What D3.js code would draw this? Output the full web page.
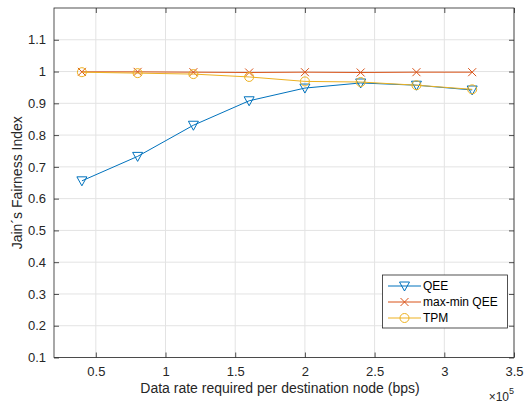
<!DOCTYPE html>
<html><head><meta charset="utf-8">
<script src="https://cdn.jsdelivr.net/npm/d3@7"></script>
<style>body{margin:0;background:#fff}svg{display:block}text{font-family:"Liberation Sans",Arial,Helvetica,sans-serif}</style>
</head><body>
<svg id="c" width="531" height="405"></svg>
<script>
const xValues = [0.4e5, 0.8e5, 1.2e5, 1.6e5, 2.0e5, 2.4e5, 2.8e5, 3.2e5];
const qee = [0.656, 0.733, 0.831, 0.908, 0.948, 0.964, 0.957, 0.942];
const maxMinQee = [0.999, 0.999, 0.998, 0.997, 0.998, 0.997, 0.998, 0.998];
const tpm = [0.998, 0.995, 0.992, 0.983, 0.969, 0.967, 0.957, 0.944];
const xTicks = [0.5e5, 1e5, 1.5e5, 2e5, 2.5e5, 3e5, 3.5e5];
const xTickLabels = ["0.5","1","1.5","2","2.5","3","3.5"];
const yTicks = [0.1,0.2,0.3,0.4,0.5,0.6,0.7,0.8,0.9,1,1.1];
const yTickLabels = ["0.1","0.2","0.3","0.4","0.5","0.6","0.7","0.8","0.9","1","1.1"];
const seriesNames = ["QEE","max-min QEE","TPM"];
const colors = ["#0072BD","#D95319","#EDB120"];

const svg = d3.select("#c");
const L=54, R=514, T=8, B=357.5;
const x = d3.scaleLinear().domain([0.2e5,3.5e5]).range([L,R]);
const y = d3.scaleLinear().domain([0.1,1.2]).range([B,T]);

// grid
const g = svg.append("g");
g.selectAll(".gx").data(xTicks).join("line")
 .attr("x1",d=>x(d)).attr("x2",d=>x(d)).attr("y1",T).attr("y2",B)
 .attr("stroke","#e3e3e3").attr("stroke-width",1);
g.selectAll(".gy").data(yTicks).join("line")
 .attr("y1",d=>y(d)).attr("y2",d=>y(d)).attr("x1",L).attr("x2",R)
 .attr("stroke","#e3e3e3").attr("stroke-width",1);

// axes
const axColor="#262626";
const xAxis = d3.axisBottom(x).tickValues(xTicks).tickFormat((d,i)=>xTickLabels[i]).tickSizeInner(-5).tickSizeOuter(0).tickPadding(9);
const yAxis = d3.axisLeft(y).tickValues(yTicks).tickFormat((d,i)=>yTickLabels[i]).tickSizeInner(-5).tickSizeOuter(0).tickPadding(8);
const xa = svg.append("g").attr("transform",`translate(0,${B})`).call(xAxis);
const ya = svg.append("g").attr("transform",`translate(${L},0)`).call(yAxis);
const xt = svg.append("g").attr("transform",`translate(0,${T})`).call(d3.axisTop(x).tickValues(xTicks).tickFormat("").tickSizeInner(-5).tickSizeOuter(0));
const yr = svg.append("g").attr("transform",`translate(${R},0)`).call(d3.axisRight(y).tickValues(yTicks).tickFormat("").tickSizeInner(-5).tickSizeOuter(0));
[xa,ya,xt,yr].forEach(a=>{
  a.select(".domain").remove();
  a.selectAll("line").attr("stroke",axColor).attr("stroke-width",0.8);
  a.selectAll("text").attr("fill","#262626").attr("font-size","13px").style("font-family",'"Liberation Sans",Arial,sans-serif');
});
svg.append("rect").attr("x",L).attr("y",T).attr("width",R-L).attr("height",B-T)
 .attr("fill","none").attr("stroke",axColor).attr("stroke-width",0.8);

// labels
svg.append("text").attr("x",280).attr("y",393).attr("text-anchor","middle")
 .attr("font-size","14px").attr("fill","#262626").text("Data rate required per destination node (bps)");
svg.append("text").attr("transform",`translate(22,${(T+B)/2}) rotate(-90)`).attr("text-anchor","middle")
 .attr("font-size","14px").attr("fill","#262626").text("Jain´s Fairness Index");
const ex = svg.append("text").attr("x",514).attr("y",401).attr("text-anchor","end").attr("font-size","12px").attr("fill","#262626");
ex.append("tspan").text("×10");
ex.append("tspan").attr("dy",-7).attr("font-size","9px").text("5");

// markers
function marker(sel, type, color){
  if(type===0){
    sel.append("path").attr("d","M-5,-4L5,-4L0,5Z").attr("fill","none").attr("stroke",color).attr("stroke-width",1);
  } else if(type===1){
    sel.append("path").attr("d","M-4,-4L4,4M-4,4L4,-4").attr("stroke",color).attr("stroke-width",1);
  } else {
    sel.append("circle").attr("r",4.5).attr("fill","none").attr("stroke",color).attr("stroke-width",1);
  }
}
const data = [qee, maxMinQee, tpm];
const line = d3.line().x((d,i)=>x(xValues[i])).y(d=>y(d));
data.forEach((vals,k)=>{
  svg.append("path").datum(vals).attr("d",line).attr("fill","none").attr("stroke",colors[k]).attr("stroke-width",1);
  vals.forEach((v,i)=>{
    const m = svg.append("g").attr("transform",`translate(${x(xValues[i])},${y(v)})`);
    marker(m,k,colors[k]);
  });
});

// legend
const lg = svg.append("g");
lg.append("rect").attr("x",382.5).attr("y",275).attr("width",125).attr("height",53)
 .attr("fill","#fff").attr("stroke","#262626").attr("stroke-width",0.8);
seriesNames.forEach((n,k)=>{
  const yy = 286 + k*16;
  lg.append("line").attr("x1",388).attr("x2",421).attr("y1",yy).attr("y2",yy).attr("stroke",colors[k]).attr("stroke-width",1);
  const m = lg.append("g").attr("transform",`translate(404.5,${yy})`);
  marker(m,k,colors[k]);
  lg.append("text").attr("x",423).attr("y",yy+4).attr("font-size","12px").attr("fill","#000").text(n);
});
</script>
</body></html>
